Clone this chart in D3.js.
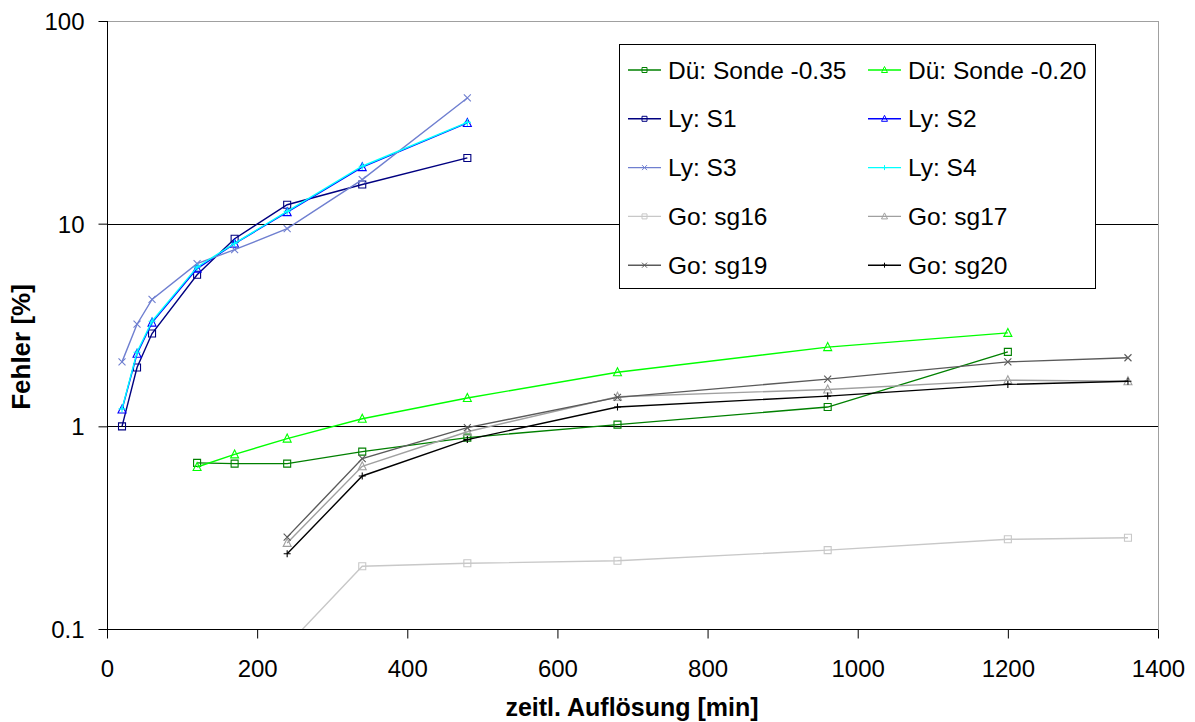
<!DOCTYPE html>
<html>
<head>
<meta charset="utf-8">
<script src="https://cdn.jsdelivr.net/npm/d3@7"></script>
<style>
  html, body { margin: 0; padding: 0; background: #fff; }
  svg { display: block; }
  text { font-family: "Liberation Sans", Arial, sans-serif; }
</style>
</head>
<body>
<script>
// ---- data ----
const xLy = [20, 40, 60, 120, 170, 240, 340, 480];
const xDue = [120, 170, 240, 340, 480, 680, 960, 1200];
const xGo = [240, 340, 480, 680, 960, 1200, 1360];

const dueSonde035 = [0.66, 0.655, 0.655, 0.75, 0.88, 1.02, 1.245, 2.33];
const dueSonde020 = [0.63, 0.727, 0.87, 1.09, 1.38, 1.85, 2.46, 2.89];
const lyS1 = [1.0, 1.95, 2.87, 5.6, 8.43, 12.4, 15.6, 21.1];
const lyS2 = [1.21, 2.28, 3.25, 6.0, 7.97, 11.4, 19.0, 31.4];
const lyS3 = [2.08, 3.19, 4.23, 6.35, 7.44, 9.45, 16.5, 41.7];
const lyS4 = [1.22, 2.32, 3.3, 6.1, 8.0, 11.5, 19.2, 31.6];
const goSg16 = [0.083, 0.204, 0.211, 0.217, 0.245, 0.277, 0.282];
const goSg17 = [0.266, 0.635, 0.94, 1.4, 1.52, 1.69, 1.67];
const goSg19 = [0.284, 0.693, 0.985, 1.39, 1.71, 2.08, 2.18];
const goSg20 = [0.235, 0.569, 0.86, 1.245, 1.41, 1.61, 1.67];

const seriesNames = ["Dü: Sonde -0.35", "Dü: Sonde -0.20", "Ly: S1", "Ly: S2", "Ly: S3", "Ly: S4",
                     "Go: sg16", "Go: sg17", "Go: sg19", "Go: sg20"];
const xTicks = [0, 200, 400, 600, 800, 1000, 1200, 1400];
const yTicks = [0.1, 1, 10, 100];
const yTickLabels = ["0.1", "1", "10", "100"];
const xTitle = "zeitl. Auflösung [min]";
const yTitle = "Fehler [%]";

// ---- styles ----
const series = [
  { name: seriesNames[0], xs: xDue, ys: dueSonde035, color: "#008000", marker: "square" },
  { name: seriesNames[1], xs: xDue, ys: dueSonde020, color: "#00ff00", marker: "triangle" },
  { name: seriesNames[2], xs: xLy, ys: lyS1, color: "#000080", marker: "square" },
  { name: seriesNames[3], xs: xLy, ys: lyS2, color: "#0000ff", marker: "triangle" },
  { name: seriesNames[4], xs: xLy, ys: lyS3, color: "#6f7fd0", marker: "x" },
  { name: seriesNames[5], xs: xLy, ys: lyS4, color: "#00ffff", marker: "plus" },
  { name: seriesNames[6], xs: xGo, ys: goSg16, color: "#c8c8c8", marker: "square" },
  { name: seriesNames[7], xs: xGo, ys: goSg17, color: "#a0a0a0", marker: "triangle" },
  { name: seriesNames[8], xs: xGo, ys: goSg19, color: "#5a5a5a", marker: "x" },
  { name: seriesNames[9], xs: xGo, ys: goSg20, color: "#000000", marker: "plus" }
];

(function () {
const W = 1195, H = 722;
const pL = 107, pR = 1158, pT = 21, pB = 629;

const svg = d3.select("body").append("svg").attr("width", W).attr("height", H);

const x = d3.scaleLinear().domain([0, 1400]).range([pL, pR]);
const y = d3.scaleLog().domain([0.1, 100]).range([pB, pT]);

svg.append("defs").append("clipPath").attr("id", "plotclip")
  .append("rect").attr("x", pL).attr("y", pT).attr("width", pR - pL).attr("height", pB - pT);

// plot border (gray top & right)
svg.append("line").attr("x1", pL).attr("x2", pR).attr("y1", pT + 0.5).attr("y2", pT + 0.5)
  .attr("stroke", "#a0a0a0").attr("stroke-width", 1);
svg.append("line").attr("x1", pR + 0.5).attr("x2", pR + 0.5).attr("y1", pT).attr("y2", pB)
  .attr("stroke", "#a0a0a0").attr("stroke-width", 1);

// gridlines at 1, 10
svg.append("g").selectAll("line").data([1, 10]).join("line")
  .attr("x1", pL).attr("x2", pR)
  .attr("y1", d => Math.round(y(d)) + 0.5).attr("y2", d => Math.round(y(d)) + 0.5)
  .attr("stroke", "#000").attr("stroke-width", 1);

// axes
const yAxis = d3.axisLeft(y).tickValues(yTicks).tickFormat((d, i) => yTickLabels[i])
  .tickSize(9).tickPadding(14);
const gy = svg.append("g").attr("transform", `translate(${pL + 0.5},0)`).call(yAxis);
gy.select(".domain").attr("stroke", "#000").attr("d", `M0,${pT}V${pB}`);
gy.selectAll(".tick line").attr("stroke", "#000");
gy.selectAll(".tick text").attr("font-size", 24).attr("fill", "#000")
  .attr("font-family", "Liberation Sans, Arial, sans-serif").attr("dy", "0.35em");

const xAxis = d3.axisBottom(x).tickValues(xTicks).tickFormat(d3.format("d"))
  .tickSize(9).tickPadding(21);
const gx = svg.append("g").attr("transform", `translate(0,${pB + 0.5})`).call(xAxis);
gx.select(".domain").attr("stroke", "#000").attr("d", `M${pL},0H${pR}`);
gx.selectAll(".tick line").attr("stroke", "#000");
gx.selectAll(".tick text").attr("font-size", 24).attr("fill", "#000")
  .attr("font-family", "Liberation Sans, Arial, sans-serif");

// titles
svg.append("text").attr("x", 632).attr("y", 716).attr("text-anchor", "middle")
  .attr("font-size", 25).attr("font-weight", "bold").text(xTitle);
svg.append("text").attr("transform", `translate(30,347) rotate(-90)`).attr("text-anchor", "middle")
  .attr("font-size", 26).attr("font-weight", "bold").text(yTitle);

// markers
function markerPath(type, s) {
  const h = s / 2;
  switch (type) {
    case "square": return `M${-h},${-h}H${h}V${h}H${-h}Z`;
    case "triangle": return `M0,${-h - 1}L${h + 0.5},${h}H${-h - 0.5}Z`;
    case "x": return `M${-h},${-h}L${h},${h}M${-h},${h}L${h},${-h}`;
    case "plus": return `M${-h},0H${h}M0,${-h}V${h}`;
  }
}

const line = d3.line().x(d => x(d[0])).y(d => y(d[1]));
const plot = svg.append("g").attr("clip-path", "url(#plotclip)");

series.forEach(s => {
  const pts = s.xs.map((xv, i) => [xv, s.ys[i]]);
  const g = plot.append("g");
  g.append("path").attr("d", line(pts)).attr("fill", "none")
    .attr("stroke", s.color).attr("stroke-width", 1.4);
  g.selectAll("path.m").data(pts).join("path").attr("class", "m")
    .attr("transform", d => `translate(${x(d[0])},${y(d[1])})`)
    .attr("d", markerPath(s.marker, 7))
    .attr("fill", "none").attr("stroke", s.color).attr("stroke-width", 1.1);
});

// legend
const lg = svg.append("g");
lg.append("rect").attr("x", 619.5).attr("y", 44.5).attr("width", 476).attr("height", 244)
  .attr("fill", "#fff").attr("stroke", "#000").attr("stroke-width", 1);
const colX = [628, 868];
const rowY0 = 70, rowDy = 48.8;
series.forEach((s, i) => {
  const c = i % 2, r = Math.floor(i / 2);
  const cy = rowY0 + r * rowDy;
  const x0 = colX[c];
  lg.append("line").attr("x1", x0).attr("x2", x0 + 33).attr("y1", cy).attr("y2", cy)
    .attr("stroke", s.color).attr("stroke-width", 1.4);
  lg.append("path").attr("transform", `translate(${x0 + 16.5},${cy})`)
    .attr("d", markerPath(s.marker, 5)).attr("fill", "none")
    .attr("stroke", s.color).attr("stroke-width", 1);
  lg.append("text").attr("x", x0 + 40).attr("y", cy + 8.5).attr("font-size", 24.5)
    .attr("fill", "#000").text(s.name);
});
})();
</script>
</body>
</html>
